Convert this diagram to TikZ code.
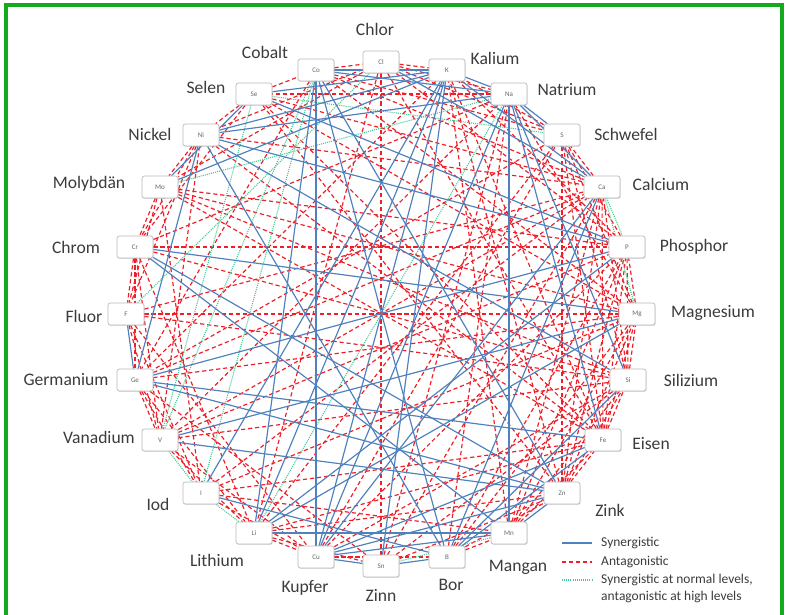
\documentclass[tikz,border=0pt]{standalone}
\usepackage{fontspec}
\setmainfont{Carlito}
\usepackage{tikz}
\usetikzlibrary{shadows, backgrounds}

\definecolor{synblue}{RGB}{79,129,189}
\definecolor{antred}{RGB}{240,30,40}
\definecolor{mixgreen}{RGB}{70,200,150}
\definecolor{framegreen}{RGB}{20,170,30}
\definecolor{labelgray}{RGB}{60,60,60}

\begin{document}
\begin{tikzpicture}[x=0.03cm, y=-0.03cm,
    elem/.style={rectangle, rounded corners=2pt, draw=gray!55, line width=0.6pt, fill=white,
        minimum width=1.08cm, minimum height=0.66cm, inner sep=0pt,
        font=\fontsize{6}{7}\selectfont, text=gray!80!black,
        drop shadow={opacity=0.25, shadow xshift=0.6pt, shadow yshift=-0.8pt}},
    lbl/.style={font=\fontsize{15}{17}\selectfont, text=labelgray, inner sep=0pt},
    leg/.style={font=\fontsize{11.5}{13}\selectfont, text=labelgray, inner sep=0pt, anchor=west},
    syn/.style={draw=synblue, line width=1pt},
    ant/.style={draw=antred, line width=1pt, dash pattern=on 3.6pt off 2.4pt},
    mix/.style={draw=mixgreen, line width=0.9pt, dash pattern=on 0.9pt off 0.9pt}]
    \useasboundingbox (0,0) rectangle (788,614);

    % elements round the circle
    \node[elem] (Cl) at (381, 62) {Cl};
    \node[elem] (K)  at (447, 70) {K};
    \node[elem] (Na) at (509, 94) {Na};
    \node[elem] (S)  at (562,135) {S};
    \node[elem] (Ca) at (602,187) {Ca};
    \node[elem] (P)  at (627,247) {P};
    \node[elem] (Mg) at (637,314) {Mg};
    \node[elem] (Si) at (628,380) {Si};
    \node[elem] (Fe) at (603,440) {Fe};
    \node[elem] (Zn) at (562,493) {Zn};
    \node[elem] (Mn) at (509,533) {Mn};
    \node[elem] (B)  at (447,557) {B};
    \node[elem] (Sn) at (381,566) {Sn};
    \node[elem] (Cu) at (316,557) {Cu};
    \node[elem] (Li) at (254,533) {Li};
    \node[elem] (I)  at (201,493) {I};
    \node[elem] (V)  at (160,440) {V};
    \node[elem] (Ge) at (135,380) {Ge};
    \node[elem] (F)  at (126,314) {F};
    \node[elem] (Cr) at (135,247) {Cr};
    \node[elem] (Mo) at (160,187) {Mo};
    \node[elem] (Ni) at (201,135) {Ni};
    \node[elem] (Se) at (254, 94) {Se};
    \node[elem] (Co) at (316, 70) {Co};

    % names
    \node[lbl] (chlor)     at (375, 29) {Chlor};
    \node[lbl] (kalium)    at (495, 58) {Kalium};
    \node[lbl] (natrium)   at (567, 90) {Natrium};
    \node[lbl] (schwefel)  at (626,134) {Schwefel};
    \node[lbl] (calcium)   at (661,184) {Calcium};
    \node[lbl] (phosphor)  at (694,247) {Phosphor};
    \node[lbl] (magnesium) at (713,313) {Magnesium};
    \node[lbl] (silizium)  at (691,380) {Silizium};
    \node[lbl] (eisen)     at (651,444) {Eisen};
    \node[lbl] (zink)      at (610,510) {Zink};
    \node[lbl] (mangan)    at (518,567) {Mangan};
    \node[lbl] (bor)       at (451,585) {Bor};
    \node[lbl] (zinn)      at (381,595) {Zinn};
    \node[lbl] (kupfer)    at (305,588) {Kupfer};
    \node[lbl] (lithium)   at (217,560) {Lithium};
    \node[lbl] (iod)       at (158,504) {Iod};
    \node[lbl] (vanadium)  at ( 99,437) {Vanadium};
    \node[lbl] (germanium) at ( 66,380) {Germanium};
    \node[lbl] (fluor)     at ( 84,316) {Fluor};
    \node[lbl] (chrom)     at ( 76,247) {Chrom};
    \node[lbl] (molybdaen) at ( 89,184) {Molybdän};
    \node[lbl] (nickel)    at (150,134) {Nickel};
    \node[lbl] (selen)     at (206, 87) {Selen};
    \node[lbl] (cobalt)    at (265, 52) {Cobalt};

    \begin{scope}[on background layer]
        \fill[white] (0,0) rectangle (788,614);
        % antagonistic
        \foreach \a/\b in {Cl/Sn, F/Mg, Co/Cl, Cl/K, Cl/Na, Cl/S, Cl/Mo, Cl/Ni, Cl/P, Cl/Fe, Cl/Li,
            Co/S, Co/Ca, Co/Mg, Co/Ge, Se/Ni, Se/Co, Se/Ca, Se/Mg, Se/Cr, Se/Zn,
            Ni/Mo, Ni/Cr, Ni/F, Ni/Ca, Ni/Fe, Ni/V, Mo/Cr, Mo/F, Mo/P, Mo/Mg, Mo/Si, Mo/Fe, Mo/I,
            Cr/F, Cr/V, Cr/Ge, Cr/P, Cr/Si, Cr/Li, Cr/Na, F/V, F/I, F/Ca, F/Si, F/Cu,
            Ge/V, Ge/I, Ge/Li, Ge/Mg, Ge/Ca, Ge/Sn, V/Li, V/Cu, V/P, V/Ca, V/Si,
            I/Cu, I/Mn, I/Fe, I/Mg, I/Ca, Li/Cu, Li/Sn, Li/Zn, Li/Fe, Li/S,
            Cu/B, Cu/Si, Cu/P, Cu/S, Sn/Zn, Sn/Si, Sn/Ca, Sn/Na,
            B/Mn, B/Zn, B/Mg, B/P, B/Na, Mn/Fe, Mn/Si, Mn/Mg, Mn/P, Mn/Ca, Mn/K,
            Zn/Fe, Zn/Si, Zn/Mg, Zn/P, Zn/Ca, Zn/S, Zn/K, Fe/Si, Fe/Mg, Fe/P, Fe/Ca, Fe/S, Fe/K,
            Si/Mg, Si/P, Si/Ca, Si/S, Mg/P, Mg/S, Mg/Na, P/S, P/K, Ca/S, S/K,
            Na/Se, K/Ge, Na/V, S/Ge, Se/Fe}
            \draw[ant] (\a) -- (\b);
        % synergistic at normal levels, antagonistic at high levels
        \foreach \a/\b in {Se/V, Co/I, Li/Na, Se/S, Mo/Na, Ca/P, Ca/Mg, Sn/Mn, I/Li, V/I, F/Cl, Co/V}
            \draw[mix] (\a) -- (\b);
        % synergistic
        \foreach \a/\b in {Na/Mn, Li/Mn, Cu/Sn, Sn/B, Cr/Mg, Cr/Mn, Cr/Zn, Ge/Fe, Ge/Zn, Ge/P,
            V/Zn, V/Mg, I/K, K/Li, Li/Co, Cu/K, Cu/Na, Ni/B, Ni/Si, Ni/K, Ni/Na, Ni/P, Ni/Ge,
            F/Ge, Mo/K, Co/Zn, Co/B, Co/Cu, Co/K, Co/Na, Se/K, Se/P, Na/Fe, Na/Si, Na/S, Na/Ca,
            K/Na, K/Ca, Cl/Ca, Ca/Cu, Ca/B, P/Li, Mg/Li, Cu/Mn, Cu/Zn, Cu/Fe, B/Si, B/Fe,
            I/B, Mn/Zn, K/Sn, Mo/Se}
            \draw[syn] (\a) -- (\b);
    \end{scope}

    % legend
    \coordinate (syn a) at (562,543);  \coordinate (syn b) at (592,543);
    \coordinate (ant a) at (562,562);  \coordinate (ant b) at (592,562);
    \coordinate (mix a) at (562,580);  \coordinate (mix b) at (592,580);
    \draw[syn] (syn a) -- (syn b);
    \draw[ant] (ant a) -- (ant b);
    \draw[mix] (mix a) -- (mix b);
    \node[leg] (syn text) at (601,543) {Synergistic};
    \node[leg] (ant text) at (601,562) {Antagonistic};
    \node[leg] (mix text) at (601,580) {Synergistic at normal levels,};
    \node[leg] (mix text2) at (601,597) {antagonistic at high levels};

    % frame
    \draw[framegreen, line width=2.6pt] (6,5) rectangle (782,625);
\end{tikzpicture}
\end{document}
